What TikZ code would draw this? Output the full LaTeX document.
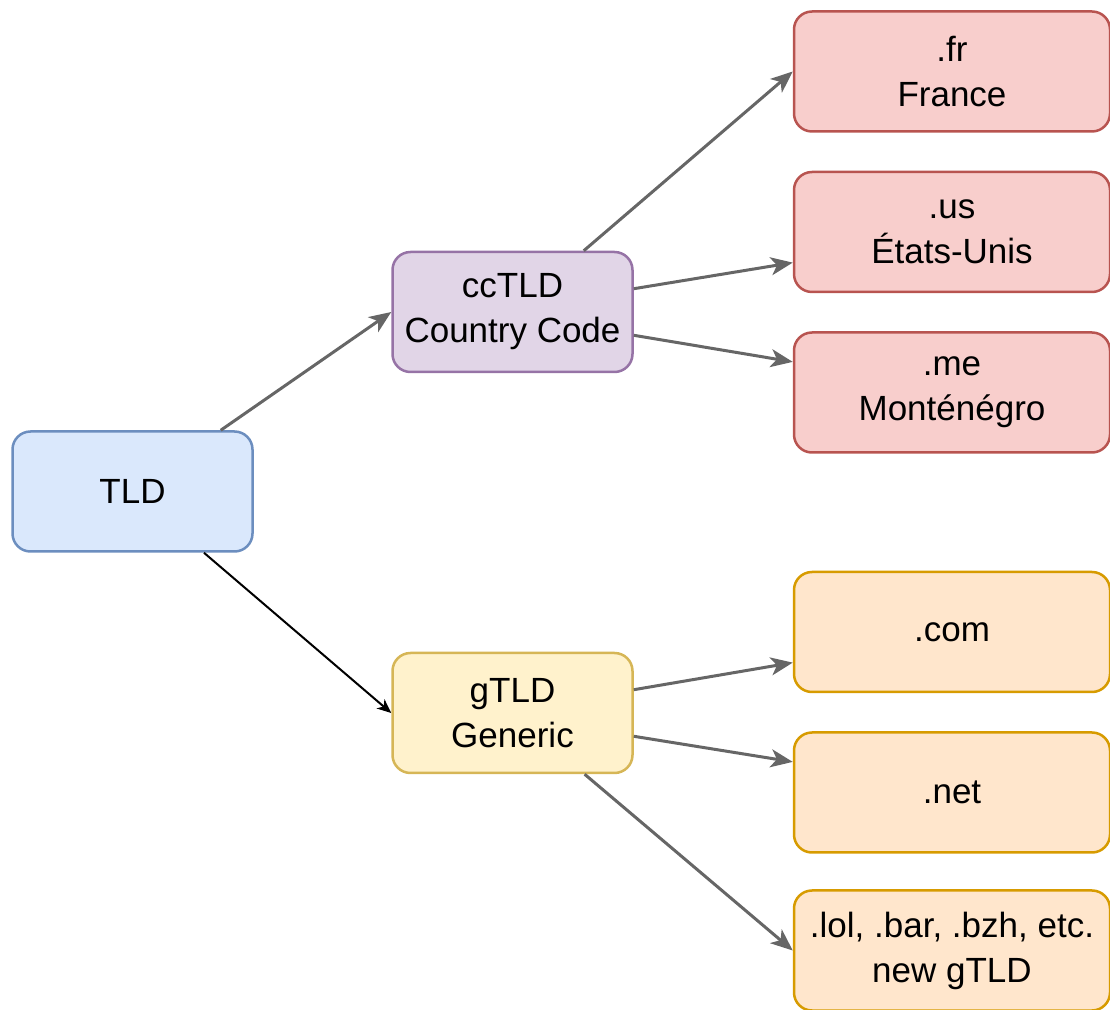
\documentclass[tikz,border=0pt]{standalone}
\usepackage{fontspec}
\setmainfont{Liberation Sans}
\usetikzlibrary{arrows.meta,positioning,calc}
\definecolor{bluefill}{HTML}{DAE8FC}\definecolor{blueline}{HTML}{6C8EBF}
\definecolor{purplefill}{HTML}{E1D5E7}\definecolor{purpleline}{HTML}{9673A6}
\definecolor{yellowfill}{HTML}{FFF2CC}\definecolor{yellowline}{HTML}{D6B656}
\definecolor{redfill}{HTML}{F8CECC}\definecolor{redline}{HTML}{B85450}
\definecolor{orangefill}{HTML}{FFE6CC}\definecolor{orangeline}{HTML}{D79B00}
\definecolor{linkgray}{HTML}{666666}

\begin{document}
\begin{tikzpicture}[x=.5pt,y=-.5pt,font=\fontsize{17.5}{22.5}\selectfont,
 box/.style={draw,rounded corners=9pt,line width=1.25pt,align=center,inner sep=0pt,minimum width=120pt,minimum height=60pt},
 leaf/.style={box,minimum width=158pt},
 link/.style={draw=linkgray,line width=1.5pt,-{Stealth[length=11pt,width=9pt,inset=3pt]}}]
\useasboundingbox (0,0) rectangle (1110,1010);
% root and the two families
\node[box,fill=bluefill,draw=blueline] (tld) at (132.5,491.5) {TLD};
\node[box,fill=purplefill,draw=purpleline] (cc) at (512.5,312) {ccTLD\\Country Code};
\node[box,fill=yellowfill,draw=yellowline] (g) at (512.5,713) {gTLD\\Generic};
% leaves
\foreach \name/\y/\txt in {fr/71.5/{.fr\\France},us/232/{.us\\États-Unis},me/392.5/{.me\\Monténégro}}
 \node[leaf,fill=redfill,draw=redline] (\name) at (952,\y) {\txt};
\foreach \name/\y/\txt in {com/632/{.com},net/792.5/{.net},lol/950.5/{.lol, .bar, .bzh, etc.\\new gTLD}}
 \node[leaf,fill=orangefill,draw=orangeline] (\name) at (952,\y) {\txt};
% links
\draw[link] (tld) -- (cc.west);
\draw[line width=1pt,-{Stealth[length=7pt,width=6pt,inset=2pt]}] (tld) -- (g.west);
\draw[link] (cc) -- (fr.west);
\draw[link] ($(cc.north east)!.31!(cc.south east)$) -- ($(us.north west)!.75!(us.south west)$);
\draw[link] ($(cc.north east)!.69!(cc.south east)$) -- ($(me.north west)!.25!(me.south west)$);
\draw[link] ($(g.north east)!.31!(g.south east)$) -- ($(com.north west)!.75!(com.south west)$);
\draw[link] ($(g.north east)!.69!(g.south east)$) -- ($(net.north west)!.25!(net.south west)$);
\draw[link] (g) -- (lol.west);
\end{tikzpicture}
\end{document}
